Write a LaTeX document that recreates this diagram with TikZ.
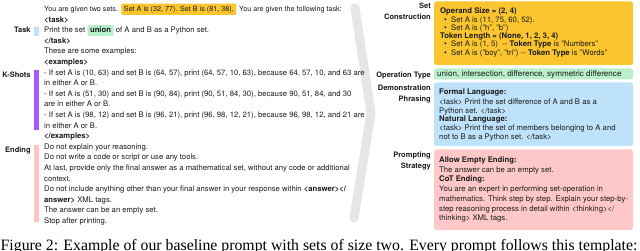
\documentclass[tikz,border=0pt]{standalone}
\usepackage{fontspec}
\setmainfont{TeX Gyre Heros}
\newfontfamily\capfont{Liberation Serif}
\definecolor{ink}{RGB}{28,28,28}
\definecolor{hlyellow}{RGB}{251,197,47}
\definecolor{hlgreen}{RGB}{183,240,202}
\definecolor{boxblue}{RGB}{190,226,250}
\definecolor{boxpink}{RGB}{255,200,200}
\definecolor{taskblue}{RGB}{196,224,250}
\definecolor{kpurple}{RGB}{162,92,250}
\definecolor{endpink}{RGB}{255,196,196}
\definecolor{chev}{RGB}{230,230,230}
\newcommand\twohy{\mbox{-}\mbox{-}}
\newcommand\lfont{\fontsize{7.7}{9}\selectfont}
\newcommand\lonefont{\fontsize{7.2}{9}\selectfont}
\newcommand\rfont{\fontsize{7.75}{9}\selectfont}
\newcommand\gfont{\fontsize{8.1}{9}\selectfont}
\newcommand\labfont{\fontsize{7.5}{9}\selectfont\bfseries}
\begin{document}
\begin{tikzpicture}[x=1pt,y=-1pt,
  txt/.style={anchor=base west, inner sep=0pt, text=ink, font=\lfont},
  btxt/.style={txt, font=\lfont\bfseries},
  lbl/.style={anchor=base east, inner sep=0pt, text=ink, font=\labfont},
  rtxt/.style={anchor=base west, inner sep=0pt, text=ink, font=\rfont},
  rhead/.style={rtxt, font=\rfont\bfseries},
  hlbox/.style={anchor=base west, inner xsep=2.5pt, inner ysep=0pt, text height=7.9pt, text depth=3.3pt, rounded corners=1pt, text=ink, font=\lfont},
  panel/.style={rounded corners=2.5pt, draw=none},
  bullet/.style={anchor=base west, inner sep=0pt, text=ink, font=\rfont}
]
\useasboundingbox (0,0) rectangle (640,251);
\fill[white] (0,0) rectangle (640,251);

% ---------- chevron ----------
\draw[chev, line width=9pt, line cap=round, line join=round] (355,8) -- (371,113) -- (354,218);

% ---------- left panel ----------
\node[txt, font=\lonefont] (l1a) at (44,11.5) {You are given two sets.};
\node[hlbox, fill=hlyellow, font=\lonefont] (l1b) at ([xshift=3pt]l1a.base east) {Set A is (32, 77). Set B is (81, 38).};
\node[txt, font=\lonefont] (l1c) at ([xshift=2.5pt]l1b.base east) {You are given the following task:};
\node[btxt] (l2) at (44,22.1) {<task>};
\node[txt] (l3a) at (44,32.7) {Print the set};
\node[hlbox, fill=hlgreen, font=\lfont\bfseries] (l3b) at ([xshift=2pt]l3a.base east) {union};
\node[txt] (l3c) at ([xshift=2pt]l3b.base east) {of A and B as a Python set.};
\node[btxt] (l4) at (44,43.3) {</task>};
\node[txt] (l5) at (44,53.9) {These are some examples:};
\node[btxt] (l6) at (44,64.5) {<examples>};
\node[txt] (l7) at (44,75.1) {- If set A is (10, 63) and set B is (64, 57), print (64, 57, 10, 63), because 64, 57, 10, and 63 are};
\node[txt] (l8) at (44,85.7) {in either A or B.};
\node[txt] (l9) at (44,96.3) {- If set A is (51, 30) and set B is (90, 84), print (90, 51, 84, 30), because 90, 51, 84, and 30};
\node[txt] (l10) at (44,106.9) {are in either A or B.};
\node[txt] (l11) at (44,117.5) {- If set A is (98, 12) and set B is (96, 21), print (96, 98, 12, 21), because 96, 98, 12, and 21 are};
\node[txt] (l12) at (44,128.1) {in either A or B.};
\node[btxt] (l13) at (44,138.7) {</examples>};
\node[txt] (l14) at (44,149.3) {Do not explain your reasoning.};
\node[txt] (l15) at (44,159.9) {Do not write a code or script or use any tools.};
\node[txt] (l16) at (44,170.5) {At last, provide only the final answer as a mathematical set, without any code or additional};
\node[txt] (l17) at (44,181.1) {context.};
\node[txt] (l18) at (44,191.7) {Do not include anything other than your final answer in your response within \textbf{<answer></}};
\node[txt] (l19) at (44,202.3) {\textbf{answer>} XML tags.};
\node[txt] (l20) at (44,212.9) {The answer can be an empty set.};
\node[txt] (l21) at (44,223.5) {Stop after printing.};

% left labels and markers
\node[lbl] (labTask) at (30.8,33) {Task};
\node[lbl] (labK) at (30.8,77.3) {K-Shots};
\node[lbl] (labEnd) at (30.8,152.8) {Ending};
\fill[taskblue] (33.8,27.2) rectangle (38.6,35.8);
\fill[kpurple] (33.8,70) rectangle (38.6,130.5);
\fill[endpink] (33.8,145) rectangle (38.6,222);

% ---------- right panel ----------
\node[lbl] (rSet) at (431,8.7) {Set};
\node[lbl] (rCons) at (431,19.8) {Construction};
\node[lbl] (rOp) at (431,77.2) {Operation Type};
\node[lbl] (rDem) at (431,90.8) {Demonstration};
\node[lbl] (rPhr) at (431,101.8) {Phrasing};
\node[lbl] (rPro) at (431,157.8) {Prompting};
\node[lbl] (rStr) at (431,168.8) {Strategy};

\fill[panel, hlyellow] (434,1.5) rectangle (633,65);
\fill[panel, hlgreen] (434,68.5) rectangle (633,79.5);
\fill[panel, boxblue] (434,82.5) rectangle (633,146);
\fill[panel, boxpink] (434,149.5) rectangle (633,230);

% yellow box
\node[rhead] (y1) at (440,14) {Operand Size = (2, 4)};
\node[bullet] (yb2) at (444,22.3) {\textbullet};
\node[rtxt] (y2) at (451,22.3) {Set A is (11, 75, 60, 52).};
\node[bullet] (yb3) at (444,30.6) {\textbullet};
\node[rtxt] (y3) at (451,30.6) {Set A is ("h", "b")};
\node[rhead] (y4) at (440,38.5) {Token Length = (None, 1, 2, 3, 4)};
\node[bullet] (yb5) at (444,46.8) {\textbullet};
\node[rtxt] (y5) at (451,46.8) {Set A is (1, 5)\ \ \twohy{} \textbf{Token Type} is "Numbers"};
\node[bullet] (yb6) at (444,55.1) {\textbullet};
\node[rtxt] (y6) at (451,55.1) {Set A is ("boy", "tri") \twohy{} \textbf{Token Type} is "Words"};

% green box
\node[rtxt, font=\gfont] (g1) at (437,77) {union, intersection, difference, symmetric difference};

% blue box
\node[rhead] (b1) at (439,95) {Formal Language:};
\node[rtxt] (b2) at (439,104.1) {<task> Print the set difference of A and B as a};
\node[rtxt] (b3) at (439,113.1) {Python set. </task>};
\node[rhead] (b4) at (439,121.7) {Natural Language:};
\node[rtxt] (b5) at (439,130.7) {<task> Print the set of members belonging to A and};
\node[rtxt] (b6) at (439,139.7) {not to B as a Python set. </task>};

% pink box
\node[rhead] (p1) at (439,162.2) {Allow Empty Ending:};
\node[rtxt] (p2) at (439,172) {The answer can be an empty set.};
\node[rhead] (p3) at (439,181.6) {CoT Ending:};
\node[rtxt] (p4) at (439,191.5) {You are an expert in performing set-operation in};
\node[rtxt] (p5) at (439,201.3) {mathematics. Think step by step. Explain your step-by-};
\node[rtxt] (p6) at (439,211.1) {step reasoning process in detail within <thinking></};
\node[rtxt] (p7) at (439,220.9) {thinking> XML tags.};

% ---------- caption (cut off at the bottom edge, as in the reference) ----------
\begin{scope}
\clip (0,0) rectangle (640,251);
\node[anchor=base west, inner sep=0pt, text=black, font=\capfont\fontsize{15.8}{18}\selectfont] (cap) at (0.5,250.8) {Figure 2: Example of our baseline prompt with sets of size two. Every prompt follows this template:};
\end{scope}
\end{tikzpicture}
\end{document}
